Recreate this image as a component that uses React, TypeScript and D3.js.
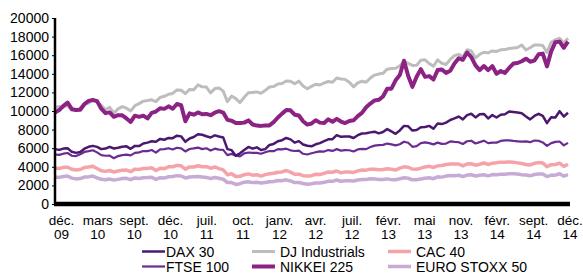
import React, { useEffect, useRef } from 'react';
import * as d3 from 'd3';

// tick labels (category axis, evenly spaced)
const months = ['déc.', 'mars', 'sept.', 'déc.', 'juil.', 'oct.', 'janv.', 'avr.', 'juil.', 'févr.', 'mai', 'nov.', 'févr.', 'sept.', 'déc.'];
const years = ['09', '10', '10', '10', '11', '11', '12', '12', '12', '13', '13', '13', '14', '14', '14'];
const yTicks = [0, 2000, 4000, 6000, 8000, 10000, 12000, 14000, 16000, 18000, 20000];

// half-month readings, déc. 2009 -> déc. 2014
const dj = [10390, 10480, 10430, 10610, 10070, 10100, 10325, 10690, 10860, 11100, 11010, 10600, 10140, 10400, 9770, 10230, 10470, 10300, 10015, 10570, 10790, 11060, 11120, 11200, 11010, 11460, 11580, 11800, 11890, 12270, 12230, 11860, 12320, 12280, 12810, 12600, 12570, 11950, 12410, 12480, 12140, 11000, 11610, 11330, 10910, 11480, 11960, 12000, 12050, 11900, 12220, 12580, 12630, 12900, 12950, 13230, 13210, 12920, 13210, 12700, 12390, 12650, 12880, 12800, 13010, 13170, 13090, 13550, 13440, 13400, 13100, 12600, 13030, 13200, 13100, 13550, 13860, 13980, 14050, 14500, 14580, 14600, 14840, 15350, 15120, 14900, 14910, 15460, 15500, 15100, 14810, 15500, 15130, 15000, 15550, 15950, 16090, 15800, 16580, 16450, 15700, 16100, 16320, 16250, 16460, 16400, 16580, 16600, 16720, 16780, 16830, 17100, 16560, 16800, 17100, 17100, 17040, 16300, 17390, 17650, 17830, 17300, 17820];
const nikkei = [9850, 10100, 10550, 10900, 10200, 10100, 10130, 10750, 11090, 11200, 11060, 10250, 9770, 9850, 9380, 9550, 9540, 9200, 8820, 9500, 9370, 9500, 9200, 9800, 9940, 10300, 10230, 10500, 10240, 10750, 10620, 8900, 9750, 9600, 9850, 9650, 9690, 9550, 9820, 9980, 9830, 9050, 8950, 8700, 8700, 8750, 8990, 8550, 8430, 8400, 8450, 8450, 8800, 9300, 9720, 10100, 10080, 9600, 9520, 8900, 8540, 8650, 9010, 8750, 8700, 9100, 8840, 9150, 8870, 8700, 8930, 9000, 9450, 9800, 10400, 10800, 11140, 11200, 11560, 12400, 12400, 13300, 13860, 15400, 13770, 12600, 13680, 14500, 13670, 13750, 13390, 14400, 14460, 14100, 14330, 15100, 15660, 15500, 16290, 15800, 14910, 14400, 14840, 14400, 14830, 14000, 14300, 14100, 14630, 15100, 15160, 15350, 15620, 15300, 15420, 16100, 16170, 14800, 16410, 17400, 17460, 16800, 17450];
const dax = [5900, 5820, 5960, 6000, 5610, 5500, 5600, 5950, 6150, 6250, 6140, 5900, 5960, 6150, 5970, 6050, 6150, 6200, 5930, 6250, 6230, 6500, 6600, 6750, 6690, 7000, 6910, 7100, 7080, 7350, 7270, 6700, 7040, 7200, 7510, 7450, 7290, 7150, 7380, 7250, 7160, 5900, 5790, 5200, 5450, 5800, 6140, 5950, 6090, 5800, 5900, 6350, 6460, 6750, 6860, 7100, 6950, 6600, 6760, 6400, 6260, 6200, 6420, 6550, 6770, 6950, 6970, 7400, 7220, 7250, 7260, 7100, 7400, 7580, 7610, 7700, 7780, 7600, 7740, 8050, 7800, 7550, 7910, 8400, 8350, 7900, 7960, 8250, 8280, 8400, 8100, 8650, 8590, 8750, 9030, 9200, 9400, 9100, 9550, 9700, 9310, 9650, 9690, 9200, 9560, 9300, 9600, 9650, 9940, 9900, 9830, 9750, 9410, 9100, 9470, 9700, 9470, 8700, 9330, 9300, 9980, 9400, 9810];
const ftse = [5320, 5280, 5410, 5480, 5190, 5150, 5350, 5600, 5680, 5780, 5550, 5250, 5190, 5200, 4920, 5150, 5260, 5300, 5230, 5500, 5550, 5700, 5680, 5800, 5530, 5880, 5900, 6000, 5860, 6050, 5990, 5650, 5910, 5980, 6070, 5900, 5990, 5750, 5950, 5850, 5820, 5250, 5390, 5200, 5130, 5450, 5540, 5500, 5500, 5400, 5570, 5700, 5680, 5900, 5870, 5950, 5770, 5700, 5740, 5400, 5320, 5450, 5570, 5650, 5640, 5800, 5710, 5900, 5740, 5800, 5780, 5650, 5870, 5920, 5900, 6120, 6280, 6330, 6360, 6500, 6410, 6300, 6430, 6700, 6580, 6150, 6220, 6550, 6620, 6550, 6410, 6600, 6460, 6500, 6730, 6680, 6650, 6450, 6750, 6800, 6510, 6650, 6810, 6550, 6600, 6600, 6780, 6850, 6850, 6780, 6740, 6700, 6730, 6650, 6820, 6800, 6620, 6250, 6550, 6680, 6720, 6300, 6570];
const cac = [3850, 3820, 3940, 3950, 3740, 3650, 3710, 3920, 3970, 4050, 3820, 3580, 3510, 3600, 3440, 3550, 3640, 3650, 3480, 3750, 3720, 3820, 3830, 3900, 3610, 3850, 3800, 4000, 4010, 4150, 4110, 3750, 3990, 3980, 4110, 4000, 4010, 3850, 3980, 3800, 3670, 3150, 3260, 2950, 2980, 3150, 3240, 3100, 3150, 3000, 3160, 3250, 3300, 3420, 3450, 3600, 3420, 3200, 3210, 3050, 3020, 3050, 3200, 3180, 3290, 3450, 3410, 3550, 3350, 3450, 3430, 3400, 3560, 3650, 3640, 3750, 3730, 3680, 3720, 3800, 3730, 3650, 3860, 4000, 3950, 3750, 3740, 3850, 3990, 4050, 3930, 4100, 4140, 4250, 4300, 4290, 4300, 4100, 4300, 4330, 4170, 4280, 4410, 4250, 4390, 4430, 4490, 4480, 4520, 4500, 4420, 4350, 4250, 4200, 4380, 4450, 4420, 4000, 4230, 4250, 4390, 4050, 4270];
const euro = [2900, 2860, 2960, 3000, 2780, 2700, 2730, 2900, 2930, 3000, 2820, 2650, 2610, 2680, 2570, 2650, 2740, 2760, 2620, 2800, 2750, 2830, 2840, 2880, 2650, 2830, 2790, 2930, 2950, 3050, 3010, 2800, 2910, 2930, 2950, 2900, 2860, 2750, 2850, 2770, 2670, 2300, 2300, 2100, 2180, 2350, 2390, 2300, 2330, 2250, 2320, 2400, 2420, 2530, 2510, 2600, 2480, 2300, 2310, 2200, 2120, 2170, 2260, 2260, 2330, 2450, 2440, 2580, 2450, 2500, 2500, 2480, 2580, 2630, 2640, 2720, 2700, 2640, 2630, 2700, 2620, 2600, 2710, 2820, 2770, 2600, 2600, 2680, 2770, 2820, 2720, 2920, 2890, 3000, 3070, 3050, 3090, 2950, 3110, 3150, 3010, 3100, 3150, 3030, 3160, 3150, 3200, 3200, 3240, 3260, 3230, 3150, 3120, 3030, 3170, 3230, 3230, 2950, 3110, 3100, 3250, 3000, 3150];

// drawing order (back to front)
const series = [
    { name: 'DJ Industrials', values: dj, color: '#bdbdbd', width: 3 },
    { name: 'NIKKEI 225', values: nikkei, color: '#8c2384', width: 4 },
    { name: 'FTSE 100', values: ftse, color: '#6b2b91', width: 2.2 },
    { name: 'DAX 30', values: dax, color: '#4b186f', width: 2.5 },
    { name: 'CAC 40', values: cac, color: '#f5a3a9', width: 3.5 },
    { name: 'EURO STOXX 50', values: euro, color: '#c7abd5', width: 3.5 },
];

// legend reads in rows of three
const legendOrder = ['DAX 30', 'DJ Industrials', 'CAC 40', 'FTSE 100', 'NIKKEI 225', 'EURO STOXX 50'];

const W = 583;
const H = 279;
const FONT = '"Liberation Sans", Arial, sans-serif';

export default function App() {
    const ref = useRef<SVGSVGElement>(null);

    useEffect(() => {
        const svg = d3.select(ref.current);
        svg.selectAll('*').remove();

        const left = 55, right = 568, top = 18, bottom = 204;

        const x = d3.scaleLinear().domain([0, dj.length - 1]).range([left, right]);
        const y = d3.scaleLinear().domain([0, 20000]).range([bottom, top]);
        const xl = d3.scalePoint<number>().domain(d3.range(months.length)).range([61.5, 570]);

        // series
        const line = d3.line<number>()
            .x((_, i) => x(i))
            .y(d => y(d));

        svg.append('g')
            .selectAll('path')
            .data(series)
            .enter()
            .append('path')
            .attr('d', d => line(d.values))
            .attr('fill', 'none')
            .attr('stroke', d => d.color)
            .attr('stroke-width', d => d.width)
            .attr('stroke-linejoin', 'round');

        // y axis
        const yAxis = svg.append('g')
            .attr('transform', `translate(${left},0)`)
            .call(d3.axisLeft(y).tickValues(yTicks).tickFormat(d3.format('d')).tickSize(3).tickSizeOuter(0).tickPadding(3));
        yAxis.select('.domain').remove();
        yAxis.selectAll('.tick line').attr('stroke', '#000').attr('stroke-width', 1);
        yAxis.selectAll('.tick text')
            .attr('font-family', FONT)
            .attr('font-size', 14)
            .attr('fill', '#000');

        svg.append('line')
            .attr('x1', left).attr('x2', left)
            .attr('y1', top).attr('y2', bottom)
            .attr('stroke', '#000').attr('stroke-width', 2.5);

        // x axis
        svg.append('line')
            .attr('x1', left - 1).attr('x2', 570)
            .attr('y1', bottom).attr('y2', bottom)
            .attr('stroke', '#000').attr('stroke-width', 4.3);

        // two-line category labels, month over year
        const labels = months.map((m, i) => ({ m, yr: years[i], i }));
        const xg = svg.append('g')
            .attr('font-family', FONT)
            .attr('font-size', 13.5)
            .attr('fill', '#000')
            .attr('text-anchor', 'middle');
        xg.selectAll('text.m')
            .data(labels)
            .enter()
            .append('text')
            .attr('class', 'm')
            .attr('x', d => xl(d.i))
            .attr('y', 224.5)
            .text(d => d.m);
        xg.selectAll('text.yr')
            .data(labels)
            .enter()
            .append('text')
            .attr('class', 'yr')
            .attr('x', d => xl(d.i))
            .attr('y', 238.5)
            .text(d => d.yr);

        // legend
        const colX = [142, 252, 388];
        const rowY = [251.5, 266.5];
        const lg = svg.append('g')
            .selectAll('g')
            .data(legendOrder.map((n, i) => ({ s: series.find(s => s.name === n)!, col: i % 3, row: Math.floor(i / 3) })))
            .enter()
            .append('g')
            .attr('transform', d => `translate(${colX[d.col]},${rowY[d.row]})`);
        lg.append('line')
            .attr('x1', 0).attr('x2', 23)
            .attr('stroke', d => d.s.color)
            .attr('stroke-width', d => d.s.width);
        lg.append('text')
            .attr('x', d => (d.col === 0 ? 24 : 28))
            .attr('y', 5)
            .attr('font-family', FONT)
            .attr('font-size', 14)
            .attr('fill', '#000')
            .text(d => d.s.name);
    }, []);

    return (
        <svg ref={ref} width={W} height={H} style={{ position: 'absolute', left: 0, top: 0, background: '#fff' }} />
    );
}
